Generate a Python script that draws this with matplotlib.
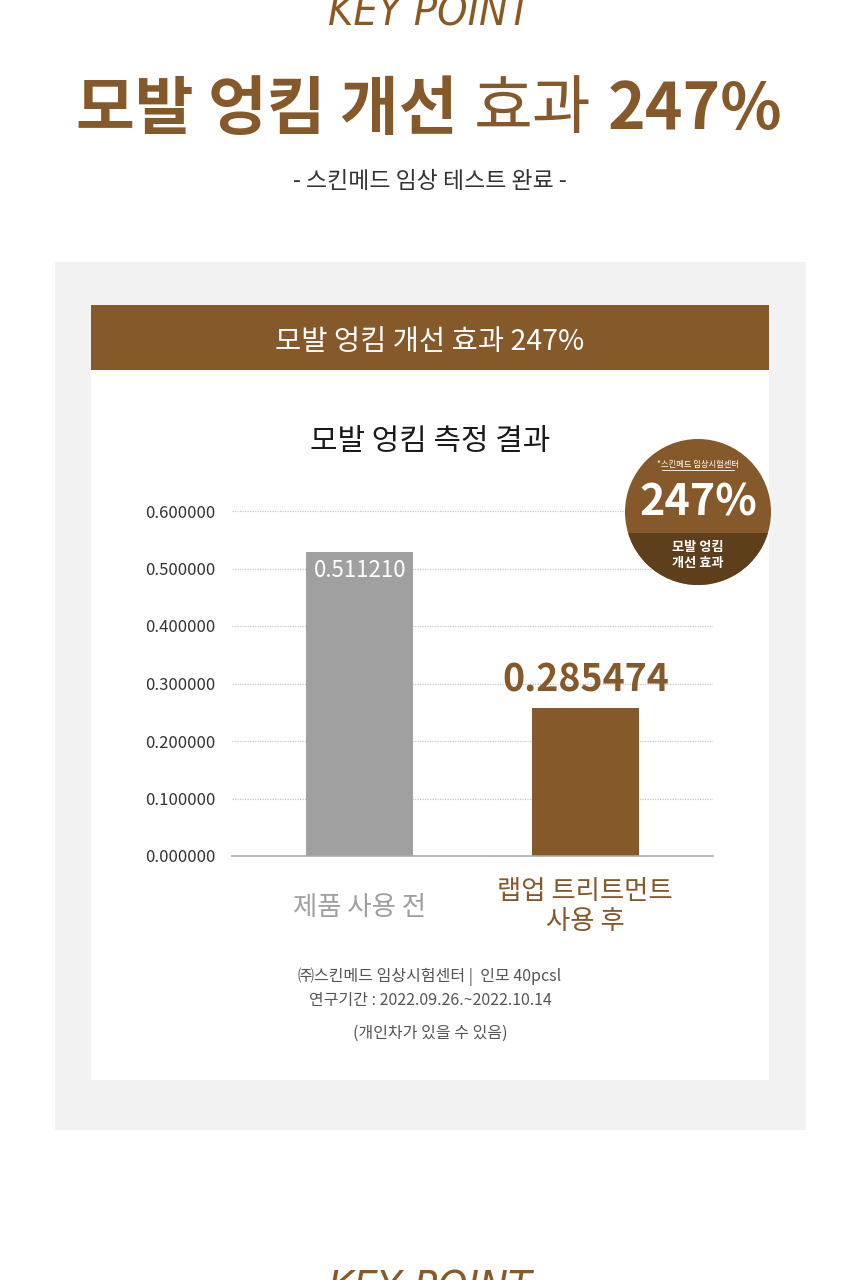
import matplotlib
matplotlib.use("Agg")
import matplotlib.pyplot as plt
from matplotlib.patches import Rectangle, Circle

plt.rcParams['font.family'] = ['Noto Sans CJK KR', 'DejaVu Sans']

# ---- data ----
categories = ["제품 사용 전", "랩업 트리트먼트\n사용 후"]
bar_heights = [0.529, 0.258]          # drawn bar heights
value_labels = ["0.511210", "0.285474"]
yticks = [0.0, 0.1, 0.2, 0.3, 0.4, 0.5, 0.6]
ytick_labels = ["%.6f" % v for v in yticks]
headline = ["모발 엉킴 개선", "효과", "247%"]
band_text = "모발 엉킴 개선 효과 247%"
chart_title = "모발 엉킴 측정 결과"
subtitle = "- 스킨메드 임상 테스트 완료 -"
footnotes = ["㈜스킨메드 임상시험센터 |  인모 40pcsl",
             "연구기간 : 2022.09.26.~2022.10.14",
             "(개인차가 있을 수 있음)"]
badge_source = "*스킨메드 임상시험센터"
badge_value = "247%"
badge_caption = "모발 엉킴\n개선 효과"

BROWN = "#86592a"
DARK_BROWN = "#5e3f1c"
GRAY_BAR = "#a0a0a0"

W, H = 860, 1280
fig = plt.figure(figsize=(W / 100, H / 100), dpi=100)
fig.patch.set_facecolor("white")

# background layer in pixel coordinates
bg = fig.add_axes([0, 0, 1, 1], zorder=0)
bg.set_xlim(0, W); bg.set_ylim(H, 0); bg.axis("off")

bg.text(430, 14, "KEY POINT", ha="center", va="center", fontsize=31,
        style="italic", color="#8a5a22", family="DejaVu Sans",
        fontstretch="condensed")
bg.text(430, 1290, "KEY POINT", ha="center", va="center", fontsize=31,
        style="italic", color="#8a5a22", family="DejaVu Sans",
        fontstretch="condensed")

bg.text(76, 110, headline[0], ha="left", va="center", fontsize=46, fontweight="bold", color=BROWN)
bg.text(474, 110, headline[1], ha="left", va="center", fontsize=46, fontweight="medium", color=BROWN)
bg.text(608, 110, headline[2], ha="left", va="center", fontsize=46, fontweight="bold", color=BROWN)
bg.text(430, 181, subtitle, ha="center", va="center", fontsize=16.5, color="#333333")

bg.add_patch(Rectangle((55, 262), 751, 868, facecolor="#f2f2f2", edgecolor="none"))
bg.add_patch(Rectangle((91, 305), 678, 775, facecolor="white", edgecolor="none"))
bg.add_patch(Rectangle((91, 305), 678, 65, facecolor=BROWN, edgecolor="none"))
bg.text(430, 342, band_text, ha="center", va="center", fontsize=20.5, color="white", fontweight="medium")
bg.text(430, 442, chart_title, ha="center", va="center", fontsize=21.5, color="#1a1a1a", fontweight="medium")

for y, t in zip([977, 1000, 1033], footnotes):
    bg.text(430, y, t, ha="center", va="center", fontsize=11.5, color="#555555")

# chart axes
ax = fig.add_axes([232 / W, (H - 856) / H, 481 / W, 345 / H], zorder=1)
ax.patch.set_alpha(0)
x = [0, 1]
ax.bar(x, bar_heights, width=0.473, color=[GRAY_BAR, BROWN], zorder=2)
ax.set_xlim(-0.566, 1.566)
ax.set_ylim(0, 0.6)
ax.set_yticks(yticks)
ax.set_yticklabels(ytick_labels, fontsize=12, color="#333333")
ax.tick_params(axis="y", length=0, pad=12)
ax.set_xticks([])
for s in ["top", "right", "left"]:
    ax.spines[s].set_visible(False)
ax.spines["bottom"].set_color("#aaaaaa")
ax.spines["bottom"].set_linewidth(1.2)
for v in yticks[1:]:
    ax.axhline(v, color="#c8c8c8", linestyle=(0, (1, 1)), linewidth=0.9, zorder=1)

ax.text(x[0], bar_heights[0] - 0.012, value_labels[0], ha="center", va="top",
        fontsize=16, color="white", fontweight="light", zorder=3)
ax.text(x[1], bar_heights[1] + 0.014, value_labels[1], ha="center", va="bottom",
        fontsize=27, color=BROWN, fontweight="bold", zorder=3)

ax.text(x[0], -0.09, categories[0], ha="center", va="center", fontsize=19,
        color=GRAY_BAR, fontweight="medium", clip_on=False)
ax.text(x[1], -0.088, categories[1], ha="center", va="center", fontsize=19,
        color=BROWN, fontweight="medium", linespacing=1.15, clip_on=False)

# badge on top layer
fg = fig.add_axes([0, 0, 1, 1], zorder=2)
fg.set_xlim(0, W); fg.set_ylim(H, 0); fg.axis("off")
circ = Circle((698, 512), 73, facecolor=BROWN, edgecolor="none")
fg.add_patch(circ)
lower = Rectangle((600, 533), 200, 100, facecolor=DARK_BROWN, edgecolor="none")
fg.add_patch(lower)
lower.set_clip_path(circ)
fg.text(698, 465, badge_source, ha="center", va="center", fontsize=6, color="white")
fg.plot([662, 734], [470, 470], color="white", lw=0.6)
fg.text(698, 502, badge_value, ha="center", va="center", fontsize=31, color="white", fontweight="bold")
fg.text(698, 555, badge_caption, ha="center", va="center", fontsize=9.5, color="white",
        fontweight="bold", linespacing=1.2)

fig.savefig("out.png", dpi=100)
